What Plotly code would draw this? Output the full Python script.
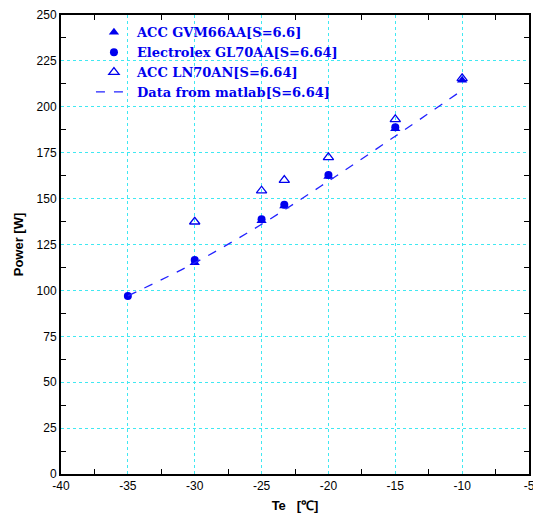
import plotly.graph_objects as go

# Evaporating temperature [°C] and measured / simulated compressor power [W]
te_gvm = [-30, -25, -23.3, -20, -15, -10]
p_gvm = [115, 138, 146, 162, 188, 214.5]

te_gl = [-35, -30, -25, -23.3, -20, -15]
p_gl = [97, 116.6, 138.7, 146.7, 162.9, 188.8]

te_ln = [-30, -25, -23.3, -20, -15, -10]
p_ln = [137.4, 154.3, 160.1, 172.5, 193.2, 215.5]

te_sim = [-35, -30, -25, -20, -15, -10]
p_sim = [97, 115, 136, 159.5, 184, 209]

names = ["ACC GVM66AA[S=6.6]", "Electrolex GL70AA[S=6.64]",
         "ACC LN70AN[S=6.64]", "Data from matlab[S=6.64]"]

x_ticks = [-40, -35, -30, -25, -20, -15, -10, -5]
y_ticks = [0, 25, 50, 75, 100, 125, 150, 175, 200, 225, 250]

blue = "#0000ee"

fig = go.Figure()
fig.add_trace(go.Scatter(x=te_gvm, y=p_gvm, mode="markers", name=names[0],
                         marker=dict(symbol="triangle-up", size=9, color=blue)))
fig.add_trace(go.Scatter(x=te_gl, y=p_gl, mode="markers", name=names[1],
                         marker=dict(symbol="circle", size=8, color=blue)))
fig.add_trace(go.Scatter(x=te_ln, y=p_ln, mode="markers", name=names[2],
                         marker=dict(symbol="triangle-up-open", size=9, color=blue,
                                     line=dict(width=1.3, color=blue))))
fig.add_trace(go.Scatter(x=te_sim, y=p_sim, mode="lines", name=names[3],
                         line=dict(color="#2222ff", width=1.3, dash="dash",
                                   shape="spline")))

axis_common = dict(
    showline=True, linecolor="black", linewidth=2, mirror="ticks",
    ticks="", showgrid=True, gridcolor="#40e8f2", gridwidth=1, griddash="dot",
    zeroline=False, automargin=False, ticklabeloverflow="allow",
    tickfont=dict(family="Liberation Sans, Arial", size=12, color="black"),
)

fig.update_xaxes(
    **axis_common, range=[-40, -5], tickvals=x_ticks,
    ticktext=[str(v) for v in x_ticks],
    minor=dict(tick0=-37.5, dtick=5, ticks="inside", ticklen=5,
               tickcolor="black", tickwidth=1, showgrid=False),
    title=dict(text="Te   [\u2103]", standoff=8,
               font=dict(family="Liberation Sans, Arial", size=13,
                         color="black", weight="bold")),
)
fig.update_yaxes(
    **axis_common, range=[0, 250], tickvals=y_ticks,
    ticktext=[str(v) for v in y_ticks],
    minor=dict(tick0=12.5, dtick=25, ticks="inside", ticklen=5,
               tickcolor="black", tickwidth=1, showgrid=False),
    title=dict(text="Power [W]", standoff=10,
               font=dict(family="Liberation Sans, Arial", size=13,
                         color="black", weight="bold")),
)

fig.update_layout(
    width=533, height=524,
    margin=dict(l=61, r=4, t=15, b=50),
    plot_bgcolor="white", paper_bgcolor="white",
    showlegend=True,
    legend=dict(x=0.064, y=0.995, xanchor="left", yanchor="top",
                bgcolor="rgba(0,0,0,0)", borderwidth=0,
                tracegroupgap=0, itemwidth=36,
                font=dict(family="DejaVu Serif", size=13,
                          color=blue, weight="bold")),
)

fig.write_html("out.html")
